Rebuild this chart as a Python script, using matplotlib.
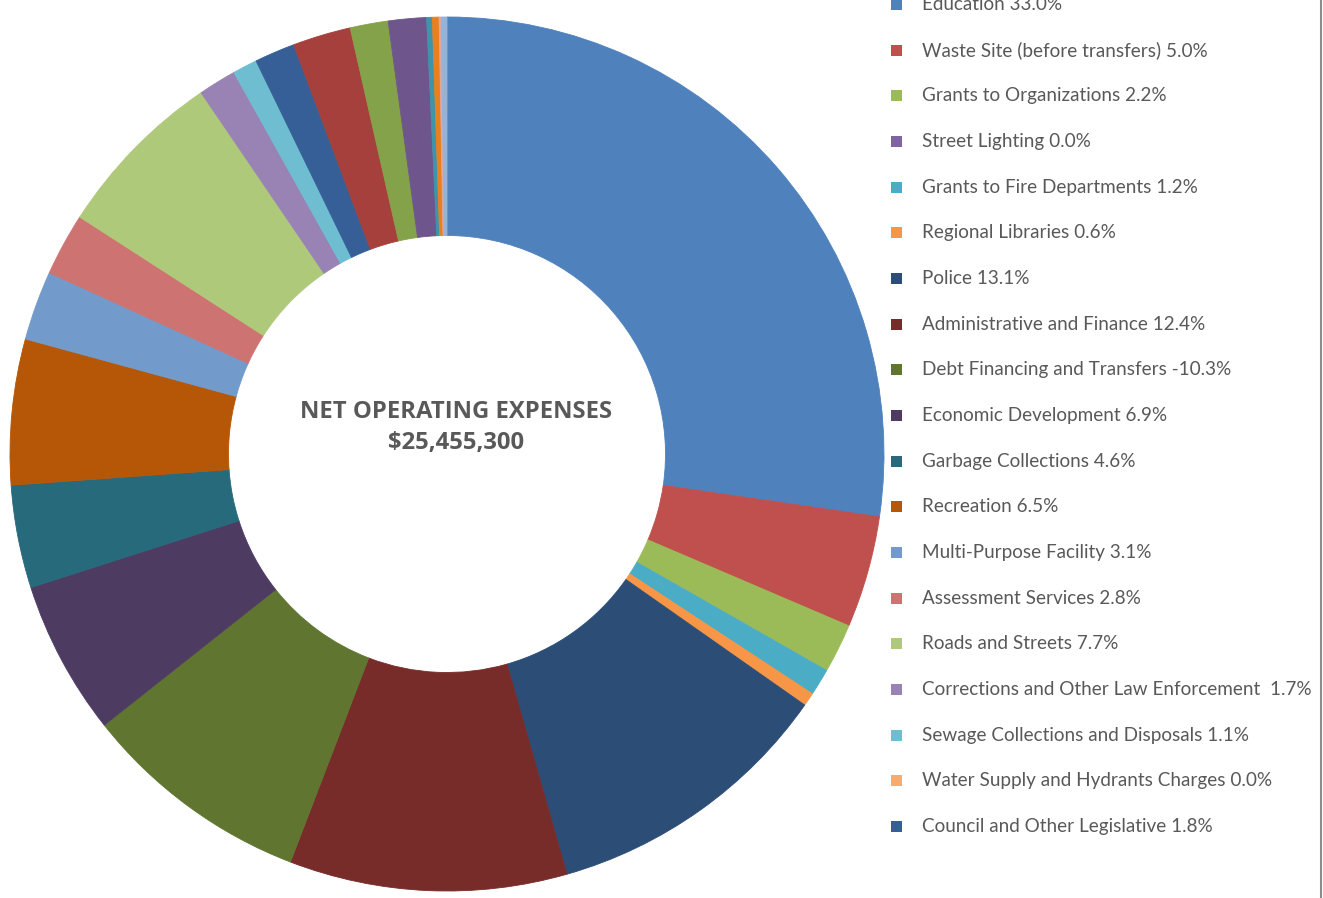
#!/usr/bin/env python3
"""Net operating expenses by department - donut chart."""

import matplotlib
matplotlib.use("Agg")
import matplotlib.pyplot as plt
from matplotlib.patches import Rectangle
from matplotlib.lines import Line2D

# share of net operating expenses, in percent (legend order = slice order)
departments = [
    "Education",
    "Waste Site (before transfers)",
    "Grants to Organizations",
    "Street Lighting",
    "Grants to Fire Departments",
    "Regional Libraries",
    "Police",
    "Administrative and Finance",
    "Debt Financing and Transfers",
    "Economic Development",
    "Garbage Collections",
    "Recreation",
    "Multi-Purpose Facility",
    "Assessment Services",
    "Roads and Streets",
    "Corrections and Other Law Enforcement ",
    "Sewage Collections and Disposals",
    "Water Supply and Hydrants Charges",
    "Council and Other Legislative",
]
shares = [33.0, 5.0, 2.2, 0.0, 1.2, 0.6, 13.1, 12.4, -10.3, 6.9, 4.6,
          6.5, 3.1, 2.8, 7.7, 1.7, 1.1, 0.0, 1.8]

# remaining small slices that have no legend entry
other_shares = [2.6, 1.7, 1.7, 0.25, 0.3, 0.1, 0.25]

center_title = "NET OPERATING EXPENSES"
center_value = "$25,455,300"

colors = [
    "#4F81BD", "#C0504D", "#9BBB59", "#8064A2", "#4BACC6", "#F79646",
    "#2C4D75", "#772C2A", "#5F7530", "#4D3B62", "#276A7C", "#B65708",
    "#729ACA", "#CD7371", "#AFC97A", "#9983B5", "#6FBDD1", "#F9AB6B",
    "#355F96",
]
other_colors = ["#A5403D", "#84A24A", "#6E568C", "#3F93AA", "#E8801F",
                "#D9A8A6", "#95B3D7"]

W, H = 1323, 898
TEXT_GRAY = "#595959"


def draw_donut(fig):
    cx, cy, r = 447, 454, 437
    ax = fig.add_axes([(cx - r) / W, (H - cy - r) / H, 2 * r / W, 2 * r / H])
    # Excel plots negative values by their magnitude
    sizes = [abs(v) for v in shares] + other_shares
    wedges, _ = ax.pie(
        sizes,
        colors=colors + other_colors,
        startangle=90,
        counterclock=False,
        radius=1.0,
        wedgeprops=dict(width=0.5, linewidth=0.6),
    )
    # outline in the fill colour hides the seams; empty slices get none
    for w, s in zip(wedges, sizes):
        w.set_edgecolor(w.get_facecolor())
        if s == 0:
            w.set_linewidth(0)
    ax.set_xlim(-1, 1)
    ax.set_ylim(-1, 1)
    ax.set_aspect("equal")
    ax.axis("off")

    for text, y in [(center_title, 412), (center_value, 443)]:
        fig.text(456 / W, 1 - y / H, text, ha="center", va="center",
                 fontsize=17.2, fontweight="bold", color=TEXT_GRAY,
                 family="Open Sans")
    return wedges


def draw_legend(fig, wedges):
    x_box, x_text = 896, 922
    y0, pitch = 4.4, 45.68
    box = 11
    for i, (name, val) in enumerate(zip(departments, shares)):
        y = y0 + i * pitch
        fig.patches.append(Rectangle(
            ((x_box - box / 2) / W, 1 - (y + box / 2) / H), box / W, box / H,
            transform=fig.transFigure, facecolor=wedges[i].get_facecolor(),
            edgecolor="none"))
        fig.text(x_text / W, 1 - y / H, f"{name} {val:.1f}%", ha="left",
                 va="center", fontsize=13.6, color=TEXT_GRAY, family="Lato")


def main():
    fig = plt.figure(figsize=(W / 100, H / 100), dpi=100)
    wedges = draw_donut(fig)
    draw_legend(fig, wedges)
    # chart area border on the right
    fig.lines.append(Line2D([1321 / W, 1321 / W], [0, 1], transform=fig.transFigure,
                            color="#8C8C8C", linewidth=1.5))
    fig.savefig("out.png", dpi=100)
    plt.close(fig)


if __name__ == "__main__":
    main()
